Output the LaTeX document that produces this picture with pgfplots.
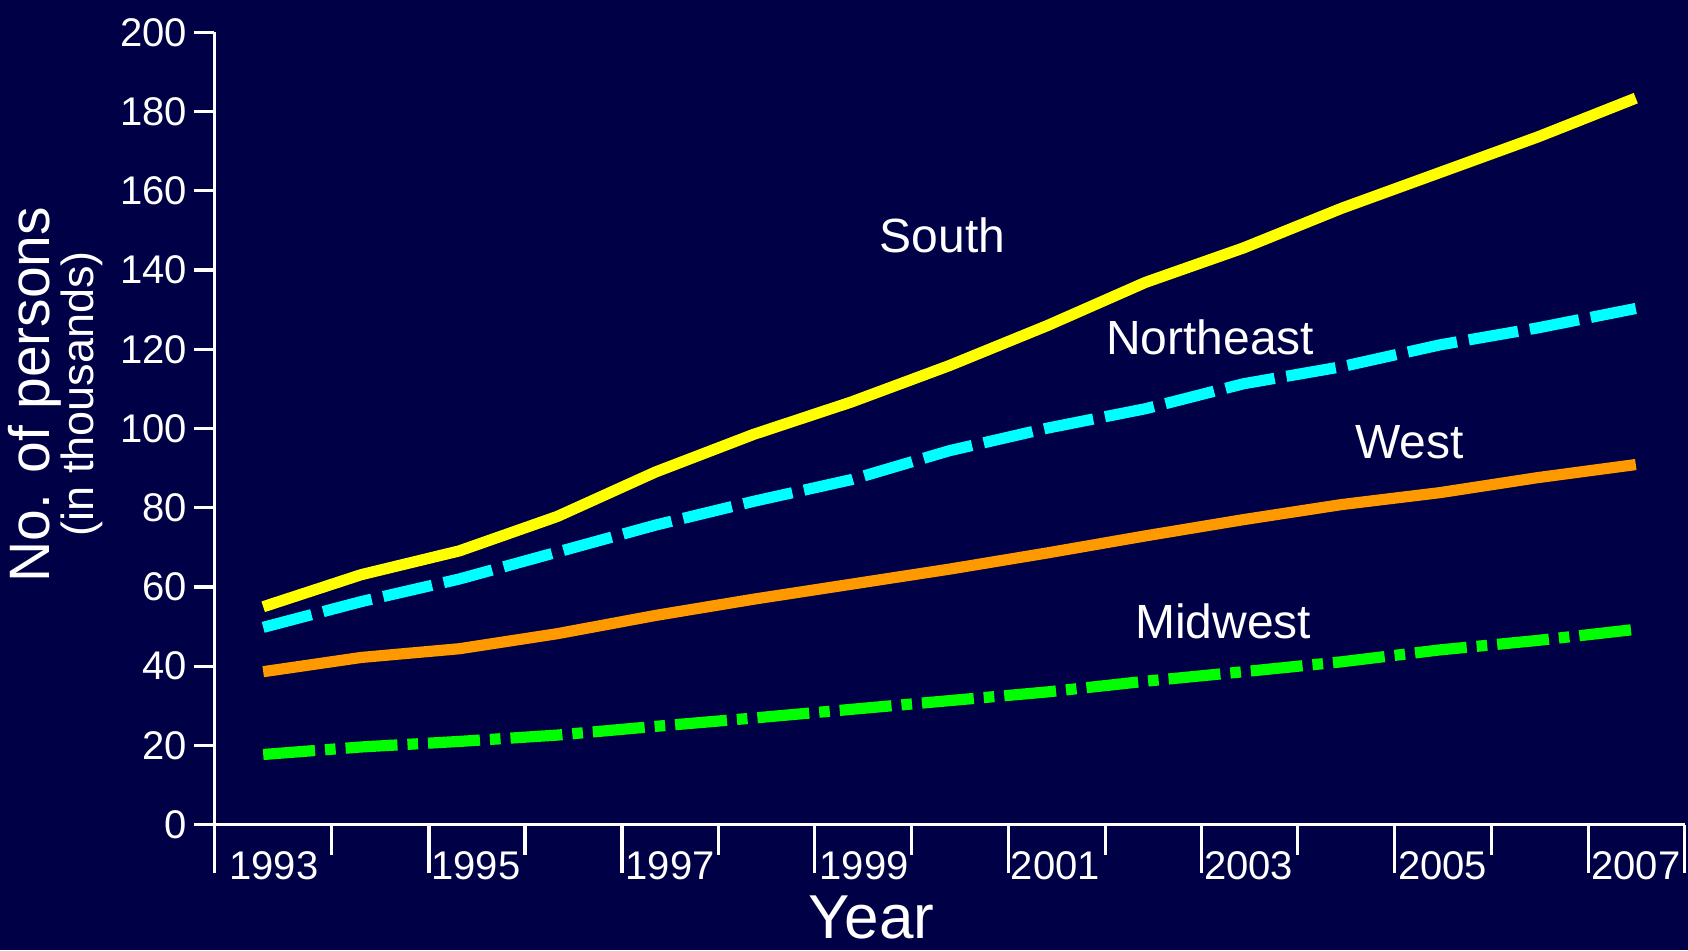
\documentclass[border=0pt]{standalone}
\usepackage{pgfplots}
\pgfplotsset{compat=1.18}
\usepackage{fontspec}
\setmainfont{Liberation Sans}
\definecolor{bg}{RGB}{0,0,70}
\definecolor{southc}{RGB}{255,255,0}
\definecolor{nec}{RGB}{0,255,255}
\definecolor{westc}{RGB}{255,153,0}
\definecolor{midc}{RGB}{0,255,0}

\pgfplotstableread{
year south northeast west midwest
1993 55.0 49.8 38.6 17.7
1994 63.1 56.3 42.2 19.6
1995 69.1 62.0 44.4 21.0
1996 77.8 68.8 48.2 22.6
1997 89.0 75.6 52.8 24.8
1998 98.5 81.6 56.9 26.9
1999 106.7 87.1 60.7 29.1
2000 115.9 94.4 64.5 31.3
2001 126.0 100.1 68.6 33.5
2002 136.9 105.0 72.9 36.2
2003 145.6 111.3 77.0 38.6
2004 155.6 115.6 80.8 41.1
2005 164.6 121.1 83.8 44.1
2006 173.6 125.4 87.6 46.5
2007 183.4 130.3 90.9 49.3
}\regions

\begin{document}
\begin{tikzpicture}
\fill[bg] (0,0) rectangle (844pt,475pt);
\path[use as bounding box] (0,0) rectangle (844pt,475pt);
\begin{axis}[
  at={(107.1pt,62.7pt)}, anchor=south west,
  scale only axis, width=735.3pt, height=396.1pt,
  xmin=1992.5, xmax=2007.5, ymin=0, ymax=200,
  axis lines*=left,
  axis line style={white, line width=1.4pt},
  tick align=outside,
  major tick length=10pt,
  minor tick length=15pt,
  tick style={white, line width=1.6pt},
  ytick={0,20,...,200},
  xtick={1993.11,1995.17,1997.15,1999.13,2001.08,2003.05,2005.03,2007.0},
  xticklabels={1993,1995,1997,1999,2001,2003,2005,2007},
  major x tick style={draw=none},
  minor xtick={1993.70,1995.67,1997.64,1999.61,2001.59,2003.55,2005.53},
  extra x ticks={1992.5,1994.69,1996.66,1998.62,2000.60,2002.57,2004.54,2006.52,2007.5},
  extra x tick labels={},
  extra x tick style={major tick length=24pt, major x tick style={draw=white, line width=1.6pt}},
  tick label style={font=\fontsize{20}{23}\selectfont, text=white},
  /pgf/number format/assume math mode=true,
  clip=false,
]
\addplot[southc, line width=5.6pt] table[x=year, y=south] {\regions};
\addplot[nec, line width=5.6pt, dash pattern=on 25pt off 6pt] table[x=year, y=northeast] {\regions};
\addplot[westc, line width=5.6pt] table[x=year, y=west] {\regions};
\addplot[midc, line width=5.6pt, dash pattern=on 26pt off 5pt on 5.3pt off 5pt] table[x=year, y=midwest] {\regions};
\node[white, font=\fontsize{24}{28}\selectfont] at (axis cs:1999.93,148.8) {South};
\node[white, font=\fontsize{24}{28}\selectfont] at (axis cs:2002.66,123.0) {Northeast};
\node[white, font=\fontsize{24}{28}\selectfont] at (axis cs:2004.69,96.6) {West};
\node[white, font=\fontsize{24}{28}\selectfont] at (axis cs:2002.79,51.4) {Midwest};
\end{axis}
\node[white, rotate=90, font=\fontsize{28.5}{32}\selectfont] at (17.2pt,277.6pt) {No. of persons};
\node[white, rotate=90, font=\fontsize{22.5}{26}\selectfont] at (40.9pt,278.1pt) {(in thousands)};
\node[white, anchor=base, font=\fontsize{31}{36}\selectfont] at (435.8pt,6pt) {Year};
\end{tikzpicture}
\end{document}
